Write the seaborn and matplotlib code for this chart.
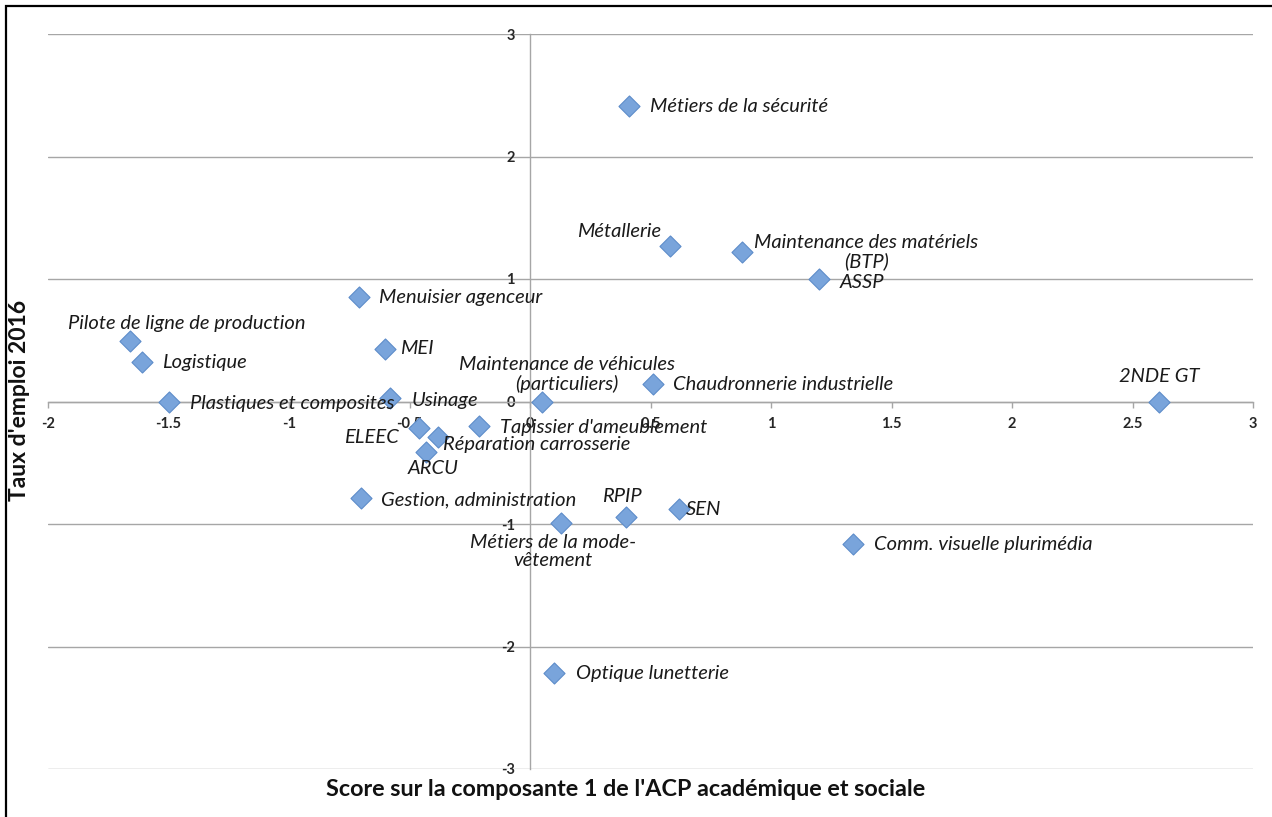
import matplotlib
matplotlib.use("Agg")
import matplotlib.pyplot as plt
import seaborn as sns
import pandas as pd
from matplotlib.patches import Rectangle

# ---- data ----
formations = [
    "Métiers de la sécurité", "Métallerie", "Maintenance des matériels\n(BTP)", "ASSP",
    "Menuisier agenceur", "Pilote de ligne de production", "Logistique", "MEI",
    "Maintenance de véhicules\n(particuliers)", "Chaudronnerie industrielle", "2NDE GT",
    "Plastiques et composites", "Usinage", "Tapissier d'ameublement", "ELEEC",
    "Réparation carrosserie", "ARCU", "Gestion, administration",
    "Métiers de la mode-\nvêtement", "RPIP", "SEN", "Comm. visuelle plurimédia",
    "Optique lunetterie",
]
score_acp = [0.41, 0.58, 0.88, 1.20, -0.71, -1.66, -1.61, -0.60, 0.05, 0.51, 2.61,
             -1.50, -0.58, -0.21, -0.46, -0.38, -0.43, -0.70, 0.13, 0.40, 0.62, 1.34, 0.10]
taux_emploi = [2.41, 1.27, 1.22, 1.00, 0.85, 0.49, 0.32, 0.43, 0.00, 0.14, 0.00,
               0.00, 0.03, -0.20, -0.22, -0.29, -0.41, -0.79, -0.99, -0.94, -0.88, -1.16, -2.22]
x_ticks = [-2, -1.5, -1, -0.5, 0, 0.5, 1, 1.5, 2, 2.5, 3]
x_tick_labels = ["-2", "-1.5", "-1", "-0.5", "0", "0.5", "1", "1.5", "2", "2.5", "3"]
y_ticks = [-3, -2, -1, 0, 1, 2, 3]
y_tick_labels = ["-3", "-2", "-1", "0", "1", "2", "3"]
x_title = "Score sur la composante 1 de l'ACP académique et sociale"
y_title = "Taux d'emploi 2016"

# label placement: (dx px, dy px, ha)
label_pos = [
    (21, 0, "left"), (-9, 14, "right"), (124, 0, "center"), (20, -3, "left"),
    (20, 0, "left"), (57, 18, "center"), (20, 0, "left"), (15, 0, "left"),
    (25, 27, "center"), (20, 0, "left"), (0, 25, "center"),
    (21, -2, "left"), (21, -3, "left"), (21, -1, "left"), (-20, -9, "right"),
    (5, -7, "left"), (7, -17, "center"), (20, -2, "left"),
    (-8, -29, "center"), (-5, 20, "center"), (6, 0, "left"), (21, -1, "left"),
    (22, 0, "left"),
]

df = pd.DataFrame({"formation": formations, "score": score_acp, "taux": taux_emploi})

sns.set_theme(style="white")
plt.rcParams["font.family"] = ["Lato", "DejaVu Sans"]

fig = plt.figure(figsize=(12.72, 8.17), dpi=100)
ax = fig.add_axes([48 / 1272, 48 / 817, 1205 / 1272, 735 / 817])

grid_col = "#a6a6a6"
for yv in y_ticks:
    ax.axhline(yv, color=grid_col, lw=1.0, zorder=0)

sns.scatterplot(data=df, x="score", y="taux", marker="D", s=115,
                color="#79a4db", edgecolor="#5d8cc9", linewidth=0.8, ax=ax, zorder=3,
                legend=False)

ax.set_xlim(-2, 3)
ax.set_ylim(-3, 3)
for s in ["top", "right"]:
    ax.spines[s].set_visible(False)
ax.spines["left"].set_position(("data", 0))
ax.spines["bottom"].set_position(("data", 0))
for s in ["left", "bottom"]:
    ax.spines[s].set_color(grid_col)
    ax.spines[s].set_linewidth(1.0)
    ax.spines[s].set_zorder(1)

ax.set_xticks(x_ticks)
ax.set_xticklabels(x_tick_labels, fontweight="bold", fontsize=10.5)
ax.set_yticks(y_ticks)
ax.set_yticklabels(y_tick_labels, fontweight="bold", fontsize=10.5)
ax.tick_params(axis="x", direction="out", length=4, width=1, color=grid_col, pad=7, bottom=True)
ax.tick_params(axis="y", length=0, pad=11, left=True)
ax.set_xlabel("")
ax.set_ylabel("")
ax.grid(False)

for name, xv, yv, (dx, dy, ha) in zip(formations, score_acp, taux_emploi, label_pos):
    ax.annotate(name, (xv, yv), xytext=(dx, dy), textcoords="offset pixels",
                ha=ha, va="center", multialignment="center", fontsize=14.5,
                fontstyle="italic", color="#1a1a1a", zorder=4, linespacing=1.1)

fig.text(626 / 1272, 1 - 789 / 817, x_title, ha="center", va="center",
         fontsize=16.8, fontweight="bold", color="#111111")
fig.text(20 / 1272, 1 - 400 / 817, y_title, ha="center", va="center", rotation=90,
         fontsize=16.5, fontweight="bold", color="#111111")

fig.patches.append(Rectangle((6 / 1272, -0.02), 1.2, 1 - 6 / 817 + 0.02,
                             transform=fig.transFigure, fill=False,
                             edgecolor="black", linewidth=1.6))

fig.savefig("out.png", dpi=100)
